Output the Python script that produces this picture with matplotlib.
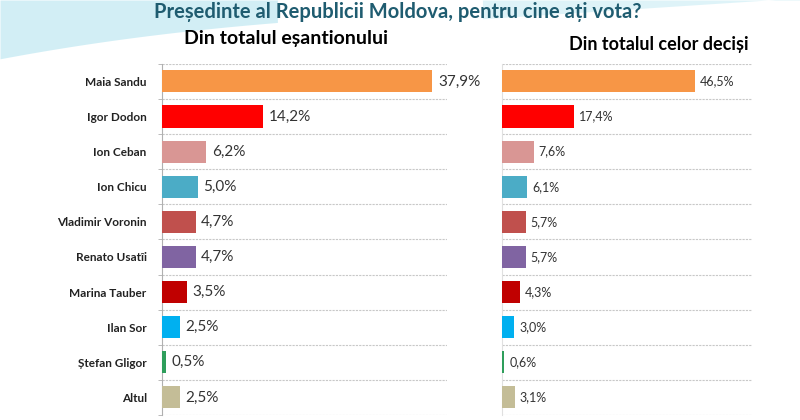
import numpy as np
import matplotlib
matplotlib.use('Agg')
import matplotlib.pyplot as plt

plt.rcParams['font.family'] = ['Lato', 'DejaVu Sans']

# Data
candidates = ['Maia Sandu', 'Igor Dodon', 'Ion Ceban', 'Ion Chicu', 'Vladimir Voronin',
              'Renato Usatîi', 'Marina Tauber', 'Ilan Sor', 'Ștefan Gligor', 'Altul']
total_sample = [37.9, 14.2, 6.2, 5.0, 4.7, 4.7, 3.5, 2.5, 0.5, 2.5]
total_decided = [46.5, 17.4, 7.6, 6.1, 5.7, 5.7, 4.3, 3.0, 0.6, 3.1]
bar_colors = ['#F79646', '#FF0000', '#D99694', '#4BACC6', '#C0504D',
              '#8064A2', '#C00000', '#00B0F0', '#2E9E5B', '#C4BD97']

title = 'Președinte al Republicii Moldova, pentru cine ați vota?'
subtitle_left = 'Din totalul eșantionului'
subtitle_right = 'Din totalul celor deciși'

fig = plt.figure(figsize=(8, 4.2), dpi=100)
fig.patch.set_facecolor('white')

# light blue swoosh in the top corners
bg = fig.add_axes([0, 0, 1, 1], zorder=-10)
bg.set_xlim(0, 1)
bg.set_ylim(0, 1)
bg.axis('off')
xs = np.linspace(0, 1, 200)
bg.fill_between(xs, 1 - 0.02 - 0.12 * (1 - xs) ** 3, 1, where=xs < 0.35, color='#bfe8f2', alpha=0.7, lw=0)
bg.fill_between(xs, 0.955 + 0.05 * (xs - 0.6) / 0.4, 1, where=xs > 0.6, color='#d6f1f7', alpha=0.8, lw=0)

fig.text(0.497, 0.971, title, ha='center', va='center', fontsize=14.5, fontweight='bold', color='#1F5C70')
fig.text(0.357, 0.909, subtitle_left, ha='center', va='center', fontsize=14, fontweight='bold', color='black')
fig.text(0.824, 0.895, subtitle_right, ha='center', va='center', fontsize=13, fontweight='bold', color='black')

y = np.arange(len(candidates))


def draw_panel(ax, values, xmax, label_size, show_names):
    ax.barh(y, values, height=0.63, color=bar_colors, zorder=3)
    ax.set_xlim(0, xmax)
    ax.set_ylim(len(candidates) - 0.5, -0.5)
    for yi, v in zip(y, values):
        ax.text(v + xmax * 0.02, yi, f'{v:.1f}%'.replace('.', ','), va='center', ha='left',
                fontsize=label_size, color='#333333')
    ax.set_xticks([])
    ax.set_yticks(np.arange(-0.5, len(candidates), 1), minor=True)
    ax.grid(True, axis='y', which='minor', linestyle=(0, (2, 1)), color='#c8c8c8', linewidth=0.8)
    ax.tick_params(axis='y', which='minor', length=3, color='#b0b0b0')
    ax.tick_params(axis='y', which='major', length=0, pad=11)
    if show_names:
        ax.set_yticks(y)
        ax.set_yticklabels(candidates, fontsize=8.5, fontweight='bold', color='#222222')
    else:
        ax.set_yticks([])
        ax.tick_params(axis='y', which='minor', length=0)
    for s in ['top', 'right', 'bottom']:
        ax.spines[s].set_visible(False)
    ax.spines['left'].set_color('#b0b0b0')
    ax.set_facecolor('none')


ax1 = fig.add_axes([0.2025, 0.012, 0.3565, 0.836])
draw_panel(ax1, total_sample, 40, 11, True)

ax2 = fig.add_axes([0.6275, 0.012, 0.3125, 0.836])
draw_panel(ax2, total_decided, 60.2, 9, False)
ax2.spines['left'].set_color('#e0e0e0')

plt.savefig('out.png', dpi=100)
